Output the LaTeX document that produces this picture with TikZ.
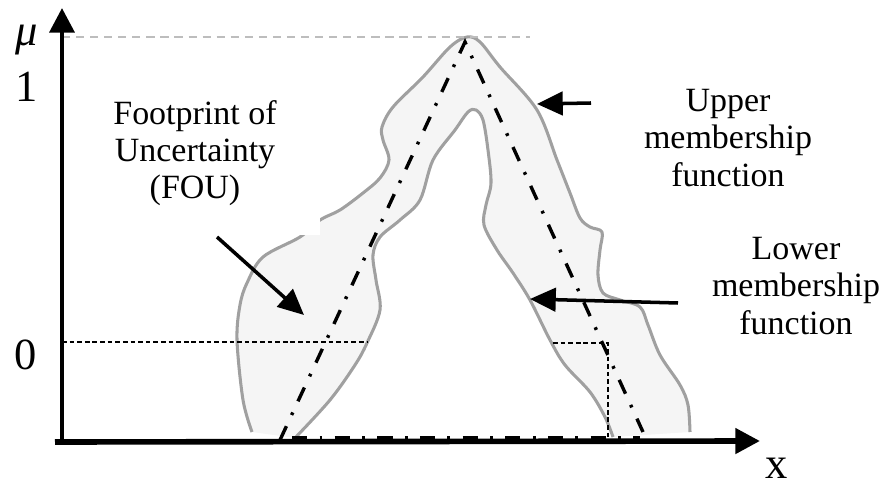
\documentclass[tikz,border=0pt]{standalone}
\usepackage{fontspec}
\setmainfont{Liberation Serif}
\usetikzlibrary{arrows.meta}
\definecolor{fougrey}{HTML}{A0A0A0}
\definecolor{foufill}{HTML}{F5F5F5}
\definecolor{topdash}{HTML}{BDBDBD}
\tikzset{
  mfline/.style={draw=fougrey, line width=2.6pt, line join=round},
  fmdashdot/.style={line width=2.9pt, dash pattern=on 13pt off 10.5pt on 2.4pt off 10.5pt},
  axisline/.style={line width=4.8pt, -{Triangle[length=21pt,width=21pt]}},
  callout/.style={line width=3pt, -{Triangle[length=22pt,width=20pt]}},
  lbl/.style={font=\fontsize{29}{31.8}\selectfont, align=center, inner sep=0pt},
  axlbl/.style={font=\fontsize{38}{40}\selectfont, inner sep=0pt},
}
\begin{document}
\begin{tikzpicture}[x=0.03cm, y=-0.03cm]
\useasboundingbox (0,0) rectangle (885,489);
% FOU fill
\fill[foufill] plot[smooth, tension=0.55] coordinates {
 (252,432) (243,400) (237,340) (240,305) (247,283) (263,257) (300,237)
 (320,220) (340,210) (363,193) (380,178) (389,160) (383,140) (382,127)
 (393,107) (423,77) (450,47) (467,37) (480,42) (500,67) (537,110)
 (557,160) (570,193) (580,218) (590,227) (602,232) (600,250) (598,275)
 (603,293) (620,300) (640,307) (648,325) (660,355) (680,385) (688,405) (690,432)}
 -- (613,437) --
 plot[smooth, tension=0.55] coordinates {
 (613,437) (605,417) (590,392) (565,365) (550,340) (530,300) (513,273)
 (497,250) (484,225) (486,205) (491,183) (488,150) (483,120) (476,110)
 (468,112) (455,130) (433,160) (420,200) (400,220) (380,237) (373,255)
 (376,280) (380,310) (367,343) (355,365) (330,400) (295,438)} -- cycle;
% upper membership function outline
\draw[mfline] plot[smooth, tension=0.55] coordinates {
 (252,432) (243,400) (237,340) (240,305) (247,283) (263,257) (300,237)
 (320,220) (340,210) (363,193) (380,178) (389,160) (383,140) (382,127)
 (393,107) (423,77) (450,47) (467,37) (480,42) (500,67) (537,110)
 (557,160) (570,193) (580,218) (590,227) (602,232) (600,250) (598,275)
 (603,293) (620,300) (640,307) (648,325) (660,355) (680,385) (688,405) (690,432)};
% lower membership function outline
\draw[mfline] plot[smooth, tension=0.55] coordinates {
 (613,437) (605,417) (590,392) (565,365) (550,340) (530,300) (513,273)
 (497,250) (484,225) (486,205) (491,183) (488,150) (483,120) (476,110)
 (468,112) (455,130) (433,160) (420,200) (400,220) (380,237) (373,255)
 (376,280) (380,310) (367,343) (355,365) (330,400) (295,438)};
% gap in the outline
\fill[white] (285,200) rectangle (320,235);
% dashed guide lines
\draw[topdash, line width=1.4pt, dash pattern=on 7pt off 5pt] (62,37) -- (530,37);
\draw[line width=1.4pt, dash pattern=on 4pt off 2.5pt] (62,342) -- (367,342);
\draw[line width=1.4pt, dash pattern=on 4pt off 2.5pt] (553,343) -- (608,343) -- (608,440);
% triangular (dash-dot) membership function
\draw[fmdashdot] (280,440) -- (465,42) -- (643,432);
% axes
\draw[axisline] (55,442) -- (760,441);
\draw[fmdashdot] (292,438) -- (640,438);
\draw[line width=4pt, -{Triangle[length=21pt,width=21pt]}] (62,444) -- (62,8);
% axis labels
\node[axlbl] (mu) at (27,40) {\itshape μ};
\node[axlbl] (one) at (27,87) {1};
\node[axlbl] (zero) at (26,355) {0};
\node[axlbl] (xl) at (777,468) {x};
% text labels
\node[lbl] (fou) at (195,153) {Footprint of\\Uncertainty\\(FOU)};
\node[lbl] (umf) at (728,138) {Upper\\membership\\function};
\node[lbl] (lmf) at (796,286) {Lower\\membership\\function};
% callout arrows
\coordinate (fouS) at (217,237);
\coordinate (fouT) at (304,315);
\coordinate (umfS) at (591,103);
\coordinate (umfT) at (537,104);
\coordinate (lmfS) at (678,303);
\coordinate (lmfT) at (530,299);
\draw[callout] (fouS) -- (fouT);
\draw[callout] (umfS) -- (umfT);
\draw[callout] (lmfS) -- (lmfT);
\end{tikzpicture}
\end{document}
